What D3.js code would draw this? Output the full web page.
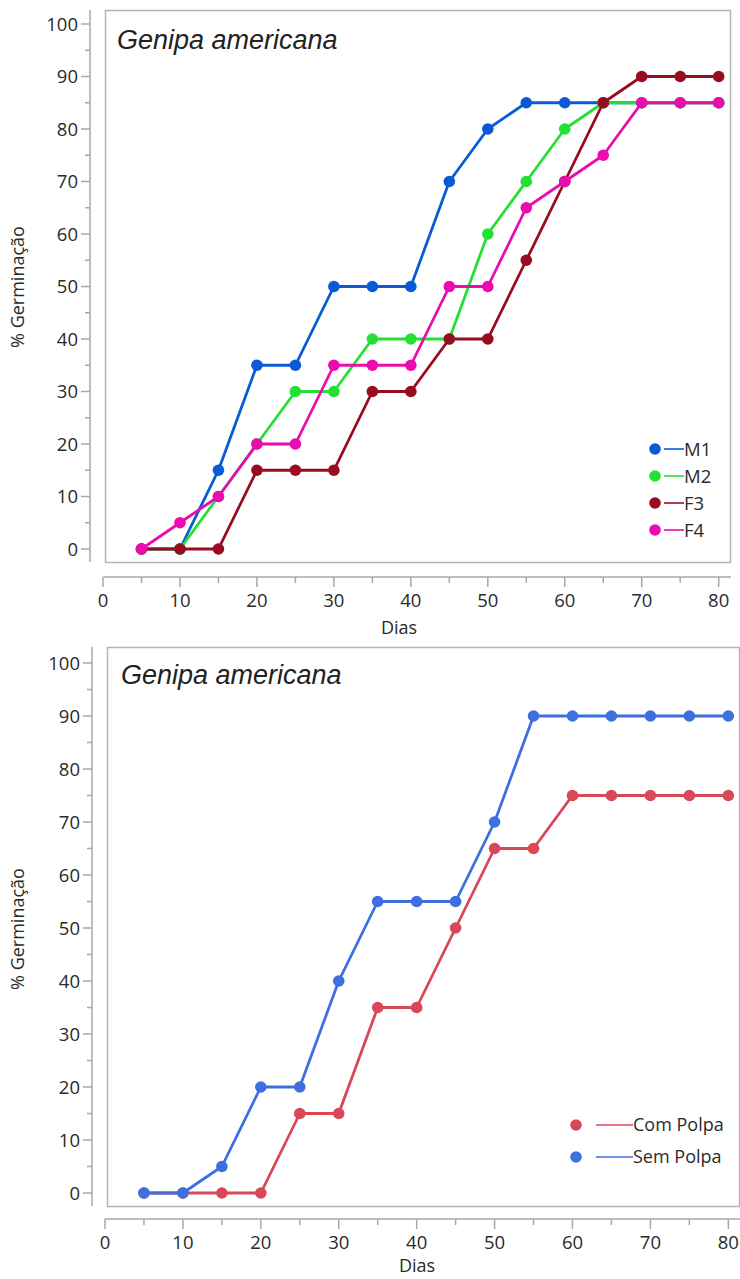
<!DOCTYPE html>
<html><head><meta charset="utf-8">
<script src="https://cdn.jsdelivr.net/npm/d3@7"></script>
<style>
html,body{margin:0;padding:0;background:#fff;}
svg{display:block;}
text{font-family:"Open Sans","Noto Sans","DejaVu Sans",sans-serif;}
text.title{font-family:"Liberation Sans",Arial,sans-serif;font-style:italic;}
</style></head>
<body>
<svg id="chart" width="740" height="1279"></svg>
<script>
const dias = [5,10,15,20,25,30,35,40,45,50,55,60,65,70,75,80];
const m1 = [0,0,15,35,35,50,50,50,70,80,85,85,85,85,85,85];
const m2 = [0,0,10,20,30,30,40,40,40,60,70,80,85,85,85,85];
const f3 = [0,0,0,15,15,15,30,30,40,40,55,70,85,90,90,90];
const f4 = [0,5,10,20,20,35,35,35,50,50,65,70,75,85,85,85];
const comPolpa = [0,0,0,0,15,15,35,35,50,65,65,75,75,75,75,75];
const semPolpa = [0,0,5,20,20,40,55,55,55,70,90,90,90,90,90,90];
const yTicks = [0,10,20,30,40,50,60,70,80,90,100];
const xTicks = [0,10,20,30,40,50,60,70,80];
const titleText = "Genipa americana";
const xLabel = "Dias";
const yLabel = "% Germinação";

const svg = d3.select("#chart");
const TXT = "#2a2a2a", AX = "#a8a8a8";

function panel(cfg){
  const g = svg.append("g");
  const x = d3.scaleLinear().domain([0, cfg.xMax]).range([cfg.xLeft, cfg.frameRight]);
  const y = d3.scaleLinear().domain([0,100]).range([cfg.y0, cfg.y100]);
  g.append("rect").attr("x", cfg.frameLeft+0.5).attr("y", cfg.frameTop+0.5)
    .attr("width", cfg.frameRight-cfg.frameLeft-1).attr("height", cfg.frameBottom-cfg.frameTop)
    .attr("fill","#fff").attr("stroke","#b4b4b4").attr("stroke-width",1.5);
  // y axis
  const yMinor = d3.range(0,101,5);
  const ya = g.append("g").attr("transform",`translate(${cfg.yAxisX},0)`);
  ya.append("line").attr("x1",0).attr("x2",0).attr("y1",cfg.frameTop).attr("y2",cfg.frameBottom)
    .attr("stroke",AX).attr("stroke-width",1.5);
  ya.selectAll("line.t").data(yMinor).enter().append("line").attr("class","t")
    .attr("x1", d=> d%10===0 ? -9 : -5).attr("x2",0)
    .attr("y1", d=>y(d)).attr("y2", d=>y(d)).attr("stroke",AX).attr("stroke-width",1.5);
  ya.selectAll("text").data(yTicks).enter().append("text")
    .attr("x",-12).attr("y", d=>y(d)).attr("dy","0.36em").attr("text-anchor","end")
    .attr("font-size",18.5).attr("fill",TXT).text(d=>d);
  // x axis
  const xMinor = d3.range(0,81,5);
  const xa = g.append("g").attr("transform",`translate(0,${cfg.xAxisY})`);
  xa.append("line").attr("x1",x(0)).attr("x2",cfg.frameRight).attr("y1",0).attr("y2",0)
    .attr("stroke",AX).attr("stroke-width",1.5);
  xa.selectAll("line.t").data(xMinor).enter().append("line").attr("class","t")
    .attr("y1",0).attr("y2", d=> d%10===0 ? 10 : 6)
    .attr("x1", d=>x(d)).attr("x2", d=>x(d)).attr("stroke",AX).attr("stroke-width",1.5);
  xa.selectAll("text").data(xTicks).enter().append("text")
    .attr("x", d=>x(d)).attr("y",30).attr("text-anchor","middle")
    .attr("font-size",18.5).attr("fill",TXT).text(d=>d);
  g.append("text").attr("x", cfg.xLabelX).attr("y", cfg.xAxisY+cfg.xLabelOff).attr("text-anchor","middle")
    .attr("font-size",18).attr("fill",TXT).text(xLabel);
  g.append("text").attr("transform",`translate(${cfg.yLabelX},${cfg.yLabelY}) rotate(-90)`)
    .attr("text-anchor","middle").attr("font-size",18).attr("fill",TXT).text(yLabel);
  g.append("text").attr("class","title").attr("x", cfg.titleX).attr("y", cfg.titleY)
    .attr("font-size",27).attr("fill","#222").text(titleText);
  // series
  const line = d3.line().x((d,i)=>x(dias[i])).y(d=>y(d));
  cfg.series.forEach(s=>{
    g.append("path").datum(s.values).attr("d",line).attr("fill","none")
      .attr("stroke",s.color).attr("stroke-width",2.8).attr("stroke-linejoin","round");
    g.selectAll(null).data(s.values).enter().append("circle")
      .attr("cx",(d,i)=>x(dias[i])).attr("cy",d=>y(d)).attr("r",5.8).attr("fill",s.color);
  });
  // legend
  cfg.series.forEach((s,i)=>{
    const ly = cfg.legY + i*cfg.legStep;
    g.append("circle").attr("cx",cfg.legDotX).attr("cy",ly).attr("r",5.8).attr("fill",s.color);
    g.append("line").attr("x1",cfg.legLineX1).attr("x2",cfg.legLineX2).attr("y1",ly).attr("y2",ly)
      .attr("stroke",s.color).attr("stroke-width",1.6);
    g.append("text").attr("x",cfg.legLineX2).attr("y",ly).attr("dy","0.36em")
      .attr("font-size",cfg.legFont).attr("fill",TXT).text(s.name);
  });
}

panel({
  xMax: 81.6, xLeft:103, frameLeft:105, frameRight:731, frameTop:10, frameBottom:562,
  y0:549, y100:24, yAxisX:90, xAxisY:577, xLabelOff:57, yLabelX:24, yLabelY:287, xLabelX:399, titleX:117, titleY:49,
  series:[
    {name:"M1", values:m1, color:"#0a5ad6"},
    {name:"M2", values:m2, color:"#24e035"},
    {name:"F3", values:f3, color:"#980c22"},
    {name:"F4", values:f4, color:"#ea0cae"}
  ],
  legY:449, legStep:27, legDotX:655, legLineX1:664, legLineX2:684, legFont:18.5
});

panel({
  xMax: 81.5, xLeft:105, frameLeft:107, frameRight:740, frameTop:647, frameBottom:1206,
  y0:1193, y100:663, yAxisX:92, xAxisY:1219, xLabelOff:53, yLabelX:24, yLabelY:929, xLabelX:417, titleX:121, titleY:684,
  series:[
    {name:"Com Polpa", values:comPolpa, color:"#d84858"},
    {name:"Sem Polpa", values:semPolpa, color:"#3d6fe0"}
  ],
  legY:1125, legStep:32, legDotX:576, legLineX1:596, legLineX2:633, legFont:18
});
</script>
</body></html>
